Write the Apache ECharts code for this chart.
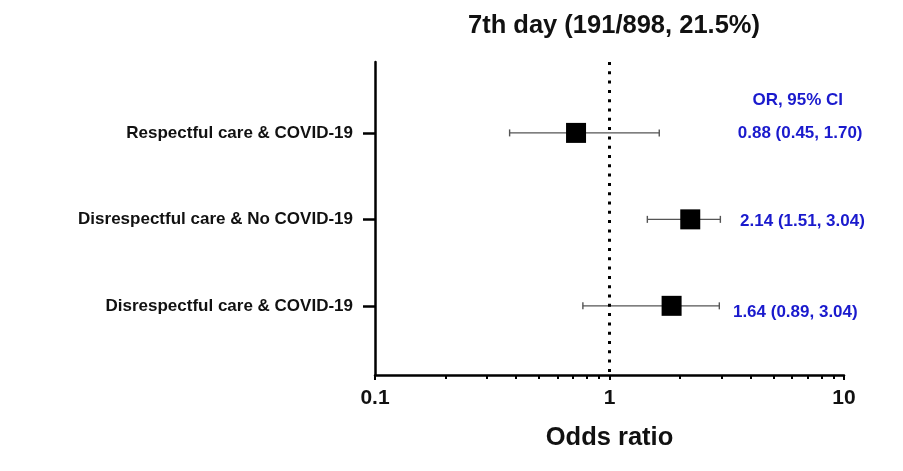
<!DOCTYPE html>
<html><head><meta charset="utf-8">
<script src="https://cdn.jsdelivr.net/npm/echarts@6/dist/echarts.min.js"></script>
<style>html,body{margin:0;padding:0;background:#fff}#c{width:903px;height:471px}</style>
</head><body><div id="c"></div>
<script>
const categories = ["Respectful care & COVID-19", "Disrespectful care & No COVID-19", "Disrespectful care & COVID-19"];
const rowPos = [1, 2, 3];
const orPlotted = [0.72, 2.21, 1.84];
const ciLow = [0.375, 1.45, 0.77];
const ciHigh = [1.63, 2.97, 2.94];
const orText = ["0.88 (0.45, 1.70)", "2.14 (1.51, 3.04)", "1.64 (0.89, 3.04)"];
const headerText = "OR, 95% CI";
const majorTicks = [0.1, 1, 10];
const minorTicks = [0.2,0.3,0.4,0.5,0.6,0.7,0.8,0.9,2,3,4,5,6,7,8,9];
const labelX = [6.35, 6.5, 6.65, 6.2];
const labelRowPos = [0.62, 1.01, 2.02, 3.07];

const FONT = "Liberation Sans, Arial, sans-serif";
const BLUE = '#1a1acd';
const chart = echarts.init(document.getElementById('c'));
chart.setOption({
  animation: false,
  title: {
    text: "7th day (191/898, 21.5%)", left: 609, top: 8, textAlign: 'center',
    textStyle: { fontFamily: FONT, fontSize: 25.5, fontWeight: 'bold', color: '#111' }
  },
  grid: { left: 375, right: 59, top: 62, bottom: 96 },
  xAxis: [{
    type: 'log', logBase: 10, min: 0.1, max: 10,
    name: 'Odds ratio', nameLocation: 'middle', nameGap: 50,
    nameTextStyle: { fontFamily: FONT, fontSize: 25.5, fontWeight: 'bold', color: '#111' },
    axisLine: { show: true, lineStyle: { color: '#000', width: 2.5 } },
    axisTick: { show: true, length: 5, lineStyle: { color: '#000', width: 2 }, customValues: majorTicks },
    axisLabel: { customValues: majorTicks, fontFamily: FONT, fontSize: 21, fontWeight: 'bold', color: '#111', margin: 13,
      formatter: v => String(v) },
    splitLine: { show: false }
  }, {
    type: 'log', logBase: 10, min: 0.1, max: 10, position: 'bottom',
    axisLine: { show: false },
    axisTick: { show: true, length: 4, lineStyle: { color: '#000', width: 2 }, customValues: minorTicks },
    axisLabel: { show: false },
    splitLine: { show: false }
  }],
  yAxis: {
    type: 'value', inverse: true, min: 0.18, max: 3.8,
    axisLine: { show: true, lineStyle: { color: '#000', width: 2.5 } },
    axisTick: { show: true, length: 12, lineStyle: { color: '#000', width: 2.5 }, customValues: rowPos },
    axisLabel: { customValues: rowPos, fontFamily: FONT, fontSize: 17, fontWeight: 'bold', color: '#111', margin: 22,
      formatter: v => categories[Math.round(v) - 1] || '' },
    splitLine: { show: false }
  },
  series: [
    {
      type: 'custom', name: 'CI',
      data: rowPos.map((y, i) => [ciLow[i], ciHigh[i], y]),
      encode: { x: [0, 1], y: 2 },
      renderItem: function (params, api) {
        const lo = api.coord([api.value(0), api.value(2)]);
        const hi = api.coord([api.value(1), api.value(2)]);
        const h = 3.5;
        const st = { stroke: '#555', lineWidth: 1.4 };
        return { type: 'group', children: [
          { type: 'line', shape: { x1: lo[0], y1: lo[1], x2: hi[0], y2: hi[1] }, style: st },
          { type: 'line', shape: { x1: lo[0], y1: lo[1] - h, x2: lo[0], y2: lo[1] + h }, style: st },
          { type: 'line', shape: { x1: hi[0], y1: hi[1] - h, x2: hi[0], y2: hi[1] + h }, style: st }
        ]};
      },
      markLine: {
        silent: true, symbol: 'none', label: { show: false },
        lineStyle: { color: '#000', width: 3, type: [3, 6.3], opacity: 1 },
        data: [{ xAxis: 1 }]
      },
      z: 2
    },
    {
      type: 'scatter', name: 'OR', symbol: 'rect', symbolSize: 20,
      itemStyle: { color: '#000', opacity: 1 },
      data: rowPos.map((y, i) => [orPlotted[i], y]), z: 3
    },
    {
      type: 'scatter', name: 'labels', symbolSize: 0, silent: true,
      itemStyle: { opacity: 1 },
      data: [[labelX[0], labelRowPos[0], headerText]].concat(orText.map((t, i) => [labelX[i + 1], labelRowPos[i + 1], t])),
      label: { show: true, position: 'inside', formatter: p => p.value[2],
        fontFamily: FONT, fontSize: 17, fontWeight: 'bold', color: BLUE, opacity: 1 },
      z: 4
    }
  ]
});
</script></body></html>
